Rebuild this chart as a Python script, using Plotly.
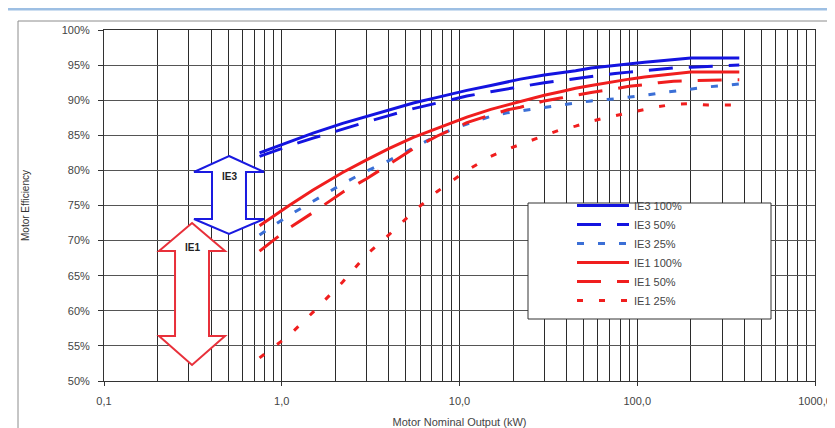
import plotly.graph_objects as go

# ---- data ----
kw = [0.75, 1.1, 1.5, 2.2, 3, 4, 5.5, 7.5, 11, 15, 18.5, 22, 30, 37, 45, 55,
      75, 90, 110, 132, 160, 200, 250, 315, 355, 375]
ie3_100 = [82.5, 84.1, 85.3, 86.7, 87.7, 88.6, 89.6, 90.4, 91.4, 92.1, 92.6, 93.0, 93.6,
           93.9, 94.2, 94.6, 95.0, 95.2, 95.4, 95.6, 95.8, 96.0, 96.0, 96.0, 96.0, 96.0]
ie3_50 = [82.0, 83.5, 84.6, 85.9, 86.9, 87.8, 88.8, 89.6, 90.6, 91.2, 91.6, 92.0, 92.5,
          92.8, 93.1, 93.4, 93.8, 94.0, 94.2, 94.4, 94.6, 94.7, 94.8, 94.9, 94.9, 95.0]
ie3_25 = [70.8, 73.6, 75.6, 78.1, 79.9, 81.4, 83.2, 85.0, 86.6, 87.7, 88.2, 88.5, 89.0,
          89.3, 89.6, 89.9, 90.2, 90.4, 90.7, 91.0, 91.3, 91.6, 91.9, 92.1, 92.2, 92.3]
ie1_100 = [72.1, 75.0, 77.2, 79.7, 81.5, 83.1, 84.7, 86.0, 87.6, 88.7, 89.3, 89.9, 90.7,
           91.2, 91.7, 92.1, 92.7, 93.0, 93.3, 93.5, 93.8, 94.0, 94.0, 94.0, 94.0, 94.0]
ie1_50 = [68.5, 71.8, 74.0, 76.9, 78.8, 80.9, 83.1, 84.9, 86.8, 87.9, 88.6, 89.0, 89.9,
          90.3, 90.7, 91.1, 91.6, 92.0, 92.2, 92.5, 92.7, 92.8, 92.9, 92.9, 92.9, 92.9]
ie1_25 = [53.3, 56.5, 59.8, 64.1, 68.0, 70.8, 74.1, 77.0, 80.0, 82.0, 83.0, 83.7, 84.9,
          85.8, 86.3, 87.0, 87.8, 88.2, 88.7, 89.1, 89.4, 89.5, 89.3, 89.3, 89.3, 89.3]

x_major = [0.1, 1, 10, 100, 1000]
x_major_text = ["0,1", "1,0", "10,0", "100,0", "1000,0"]
x_minor = [m * d for d in [0.1, 1, 10, 100] for m in range(2, 10)]

series_names = ["IE3 100%", "IE3 50%", "IE3 25%", "IE1 100%", "IE1 50%", "IE1 25%"]

# ---- layout geometry (pixels) ----
W, H = 835, 428
L, R, T, B = 96, 807, 22, 373


def px(x):
    return (x - L) / (R - L)


def py(y):
    return (B - y) / (B - T)


def path(points):
    s = "M" + " L".join(f"{px(a):.4f},{py(b):.4f}" for a, b in points) + " Z"
    return s


BLUE = "#1414E0"
RED = "#F01E1E"
LBLUE = "#3B6FD6"

fig = go.Figure()
styles = [
    (ie3_100, BLUE, "solid", 3),
    (ie3_50, BLUE, "24px,16px", 3),
    (ie3_25, LBLUE, "7px,14px", 3),
    (ie1_100, RED, "solid", 3),
    (ie1_50, RED, "24px,16px", 3),
    (ie1_25, RED, "6px,16px", 3),
]
for name, (vals, col, dash, w) in zip(series_names, styles):
    fig.add_trace(go.Scatter(x=kw, y=vals, mode="lines", name=name,
                             line=dict(color=col, dash=dash, width=w)))

ie3_arrow = [(221, 148), (256, 164), (238, 164), (238, 211), (256, 211), (221, 226),
             (186, 211), (204, 211), (204, 164), (186, 164)]
ie1_arrow = [(184, 215), (217, 243), (201, 243), (201, 328), (217, 328), (184, 357),
             (151, 328), (167, 328), (167, 243), (151, 243)]

shapes = [
    # outer frame
    dict(type="rect", xref="paper", yref="paper", x0=px(10), x1=px(830), y0=py(440), y1=py(13),
         line=dict(color="#8C8C8C", width=1), fillcolor="rgba(0,0,0,0)", layer="below"),
    dict(type="line", xref="paper", yref="paper", x0=px(0), x1=px(835), y0=py(1), y1=py(1),
         line=dict(color="#9DBFE3", width=3)),
    # legend box
    dict(type="rect", xref="paper", yref="paper", x0=px(520), x1=px(763), y0=py(311), y1=py(195),
         line=dict(color="#333333", width=1), fillcolor="white", layer="above"),
    # arrows
    dict(type="path", xref="paper", yref="paper", path=path(ie3_arrow),
         line=dict(color="#1A1AE0", width=2), fillcolor="white", layer="above"),
    dict(type="path", xref="paper", yref="paper", path=path(ie1_arrow),
         line=dict(color="#E8303A", width=2), fillcolor="white", layer="above"),
]

annotations = [
    dict(text="<b>IE3</b>", x=px(221), y=py(169), xref="paper", yref="paper",
         xanchor="center", yanchor="middle",
         showarrow=False, font=dict(size=10, color="#222222")),
    dict(text="<b>IE1</b>", x=px(184), y=py(239), xref="paper", yref="paper",
         xanchor="center", yanchor="middle",
         showarrow=False, font=dict(size=10, color="#222222")),
]

fig.update_layout(
    width=W, height=H,
    margin=dict(l=L, r=W - R, t=T, b=H - B, autoexpand=False),
    paper_bgcolor="white", plot_bgcolor="white",
    font=dict(family="Arial, Liberation Sans, sans-serif", size=11, color="#444444"),
    shapes=shapes, annotations=annotations,
    showlegend=True,
    legend=dict(x=px(564), y=py(183), xanchor="left", yanchor="top",
                bgcolor="rgba(0,0,0,0)", borderwidth=0, itemwidth=52,
                font=dict(size=11, color="#444444"), tracegroupgap=0),
)

fig.update_xaxes(
    type="log", range=[-1, 3],
    tickvals=x_major, ticktext=x_major_text,
    ticks="outside", ticklen=4, tickcolor="#333333",
    showgrid=True, gridcolor="#2b2b2b", gridwidth=1,
    minor=dict(tickvals=x_minor, showgrid=True, gridcolor="#2b2b2b", gridwidth=1, ticks=""),
    showline=True, linecolor="#333333", linewidth=1, mirror=True,
    ticklabelstandoff=6,
    title=dict(text="Motor Nominal Output (kW)", font=dict(size=11, color="#444444"), standoff=12),
    zeroline=False,
)
fig.update_yaxes(
    range=[50, 100], dtick=5, ticksuffix="%",
    ticks="outside", ticklen=5, tickcolor="#333333",
    ticklabelstandoff=6,
    showgrid=True, gridcolor="#555555", gridwidth=1.3,
    showline=True, linecolor="#333333", linewidth=1, mirror=True,
    title=dict(text="Motor Efficiency", font=dict(size=10, color="#333333"), standoff=30),
    zeroline=False,
)

fig.write_html("out.html")
